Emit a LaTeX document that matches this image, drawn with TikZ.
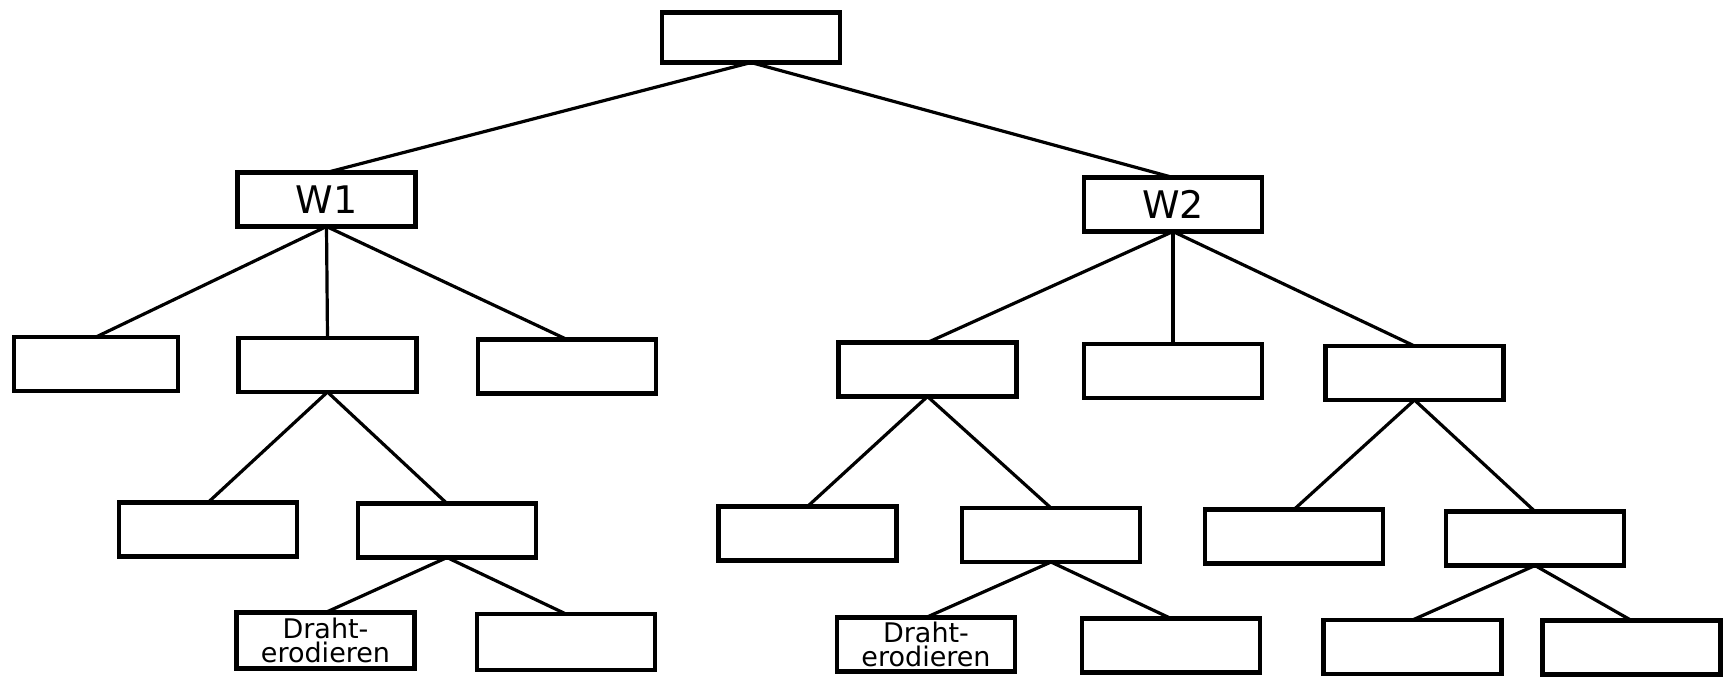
\documentclass[tikz,border=0pt]{standalone}
\usepackage{fontspec}
\setmainfont{DejaVu Sans}
\tikzset{
  box/.style={draw=black, line width=2.2pt, fill=white, inner sep=0pt, outer sep=0pt,
              minimum width=89pt, minimum height=27pt},
  link/.style={draw=black, line width=1.6pt},
  wlabel/.style={font=\fontsize{19pt}{19pt}\selectfont},
  dlabel/.style={font=\fontsize{13.5pt}{12pt}\selectfont, align=center}
}
\begin{document}
\begin{tikzpicture}[x=0.5pt,y=-0.5pt]
\useasboundingbox[fill=white] (0,0) rectangle (1725,677);
% level 0
\node[box, minimum height=25pt] (top) at (751,37.5) {};
% level 1
\node[box, wlabel] (w1) at (326.5,199.5) {W1};
\node[box, wlabel] (w2) at (1173,204.5) {W2};
% level 2
\node[box, minimum width=82pt] (a1) at (96,364) {};
\node[box] (a2) at (327.5,365) {};
\node[box] (a3) at (567,366.5) {};
\node[box] (b1) at (927.5,369.5) {};
\node[box] (b2) at (1173,371) {};
\node[box] (b3) at (1414.5,373) {};
% level 3
\node[box] (a21) at (208,529.5) {};
\node[box] (a22) at (447,530.5) {};
\node[box] (b11) at (807.5,533.5) {};
\node[box] (b12) at (1051,535) {};
\node[box] (b31) at (1294,536.5) {};
\node[box] (b32) at (1535,538.5) {};
% level 4
\node[box, minimum height=28pt, dlabel] (a221) at (325.5,640.5) {Draht-\\erodieren};
\node[box, minimum height=28pt] (a222) at (566,642) {};
\node[box, dlabel] (b121) at (926,644.5) {Draht-\\erodieren};
\node[box] (b122) at (1171,645.5) {};
\node[box] (b321) at (1412.5,647) {};
\node[box] (b322) at (1631.5,647.5) {};
% connectors
\draw[link] (top.south) -- (w1.north);
\draw[link] (top.south) -- (w2.north);
\draw[link] (w1.south) -- (a1.north);
\draw[link] (w1.south) -- (a2.north);
\draw[link] (w1.south) -- (a3.north);
\draw[link] (w2.south) -- (b1.north);
\draw[link] (w2.south) -- (b2.north);
\draw[link] (w2.south) -- (b3.north);
\draw[link] (a2.south) -- (a21.north);
\draw[link] (a2.south) -- (a22.north);
\draw[link] (b1.south) -- (b11.north);
\draw[link] (b1.south) -- (b12.north);
\draw[link] (b3.south) -- (b31.north);
\draw[link] (b3.south) -- (b32.north);
\draw[link] (a22.south) -- (a221.north);
\draw[link] (a22.south) -- (a222.north);
\draw[link] (b12.south) -- (b121.north);
\draw[link] (b12.south) -- (b122.north);
\draw[link] (b32.south) -- (b321.north);
\draw[link] (b32.south) -- (b322.north);
\end{tikzpicture}
\end{document}
